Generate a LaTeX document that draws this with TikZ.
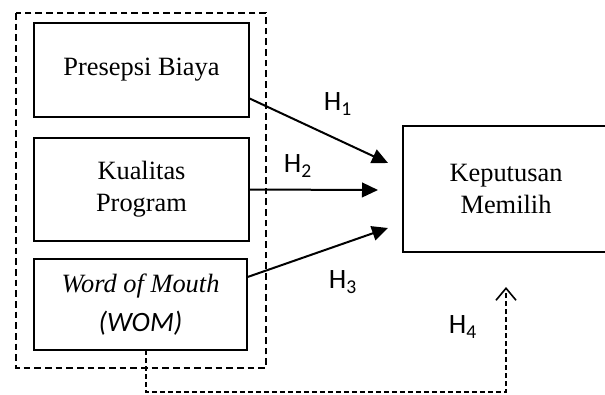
\documentclass[tikz,border=0pt]{standalone}
\usepackage{fontspec}
\setmainfont{Liberation Serif}
\setsansfont{Carlito}
\usetikzlibrary{arrows.meta,calc}

\begin{document}
\begin{tikzpicture}[x=0.75pt,y=-0.75pt,
    every node/.style={inner sep=0,outer sep=0,align=center,
        font=\fontsize{19.8}{24}\selectfont},
    var/.style={draw,line width=0.8pt},
    hyp/.style={font=\fontsize{21}{24}\selectfont\sffamily},
    link/.style={line width=1.5pt,-{Triangle[length=12pt,width=11pt]}},
    group/.style={line width=1.5pt,dash pattern=on 5pt off 3pt}]
    \clip (0,0) rectangle (605,394);
    \node[var,minimum width=161.25pt,minimum height=70.5pt](p1) at (141.5,70)
        {Presepsi Biaya};
    \node[var,minimum width=161.25pt,minimum height=77.25pt](p2) at (141.5,189.5)
        {Kualitas\\Program};
    \node[var,minimum width=159.75pt,minimum height=68.25pt](p3) at (140.5,304.5)
        {\itshape Word of Mouth\\[5pt]{\sffamily\itshape\fontsize{21}{24}\selectfont (WOM)}};
    \node[var,minimum width=154.5pt,minimum height=94.5pt](km) at (506,189)
        {Keputusan\\Memilih};
    \draw[group] ($(p1.north west)+(-18,-10)$) rectangle ($(p3.south east)+(19,18)$);
    \coordinate(e1) at (388,163);
    \coordinate(e2) at (378,190);
    \coordinate(e3) at (388,228);
    \coordinate(e4) at (506,287);
    \coordinate(low) at (506,392);
    \draw[link] ($(p1.south east)!0.2!(p1.north east)$) -- (e1);
    \draw[link] (p2.east) -- (e2);
    \draw[link] ($(p3.north east)!0.2!(p3.south east)$) -- (e3);
    \draw[line width=1.2pt,dash pattern=on 3.75pt off 2.25pt,
        -{Straight Barb[length=9pt,width=15pt]}]
    ([xshift=4pt]p3.south) |- (low) -- (e4);
    \node[hyp](h1) at (338,104) {H\textsubscript{1}};
    \node[hyp](h2) at (298,166) {H\textsubscript{2}};
    \node[hyp](h3) at (343,282) {H\textsubscript{3}};
    \node[hyp](h4) at (463,327) {H\textsubscript{4}};
\end{tikzpicture}
\end{document}
